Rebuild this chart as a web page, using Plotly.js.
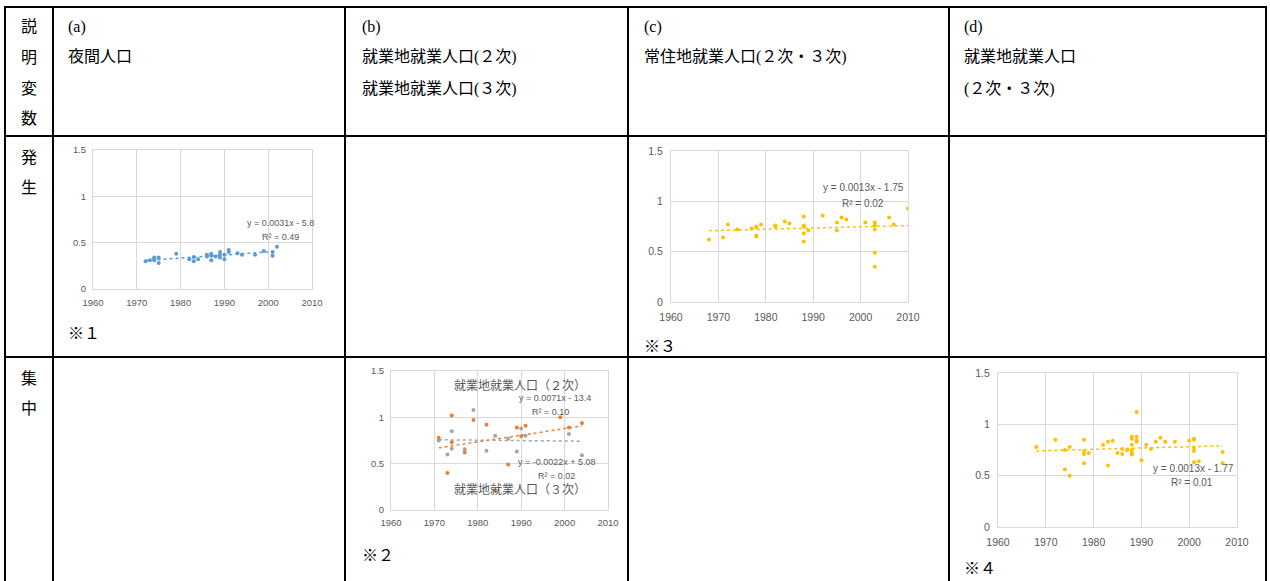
<!DOCTYPE html>
<html>
<head>
<meta charset="utf-8">
<script src="https://cdn.plot.ly/plotly-3.0.1.min.js"></script>
<style>
  html, body { margin: 0; padding: 0; background: #fff; }
  #chart { width: 1270px; height: 581px; }
</style>
</head>
<body>
<div id="chart"></div>
<script>
// (a) 発生 ― 夜間人口
const yearsA = [1972, 1973, 1974, 1974, 1974, 1975, 1975, 1979, 1982, 1983, 1983, 1984,
                1986, 1986, 1987, 1987, 1987, 1988, 1989, 1989, 1989, 1990, 1990, 1991,
                1991, 1993, 1994, 1997, 1999, 2001, 2001, 2002];
const valsA  = [0.30, 0.31, 0.33, 0.31, 0.34, 0.34, 0.28, 0.38, 0.32, 0.345, 0.30, 0.32,
                0.37, 0.35, 0.38, 0.31, 0.36, 0.35, 0.40, 0.37, 0.34, 0.37, 0.32, 0.42,
                0.40, 0.385, 0.37, 0.37, 0.41, 0.40, 0.36, 0.457];

// (b) 集中 ― 就業地就業人口（２次）/（３次）
const yearsB2 = [1971, 1973, 1974, 1974, 1977, 1979, 1982, 1984, 1987, 1989, 1990, 1991, 1999, 2001, 2004];
const valsB2  = [0.78, 0.40, 1.02, 0.73, 0.62, 0.97, 0.92, 0.21, 0.49, 0.89, 0.795, 0.91, 1.00, 0.89, 0.94];
const yearsB3 = [1971, 1973, 1974, 1974, 1977, 1979, 1982, 1984, 1987, 1989, 1990, 1991, 2001, 2004];
const valsB3  = [0.75, 0.60, 0.85, 0.66, 0.655, 1.08, 0.64, 0.80, 0.77, 0.63, 0.88, 0.80, 0.82, 0.59];

// (c) 発生 ― 常住地就業人口（２次・３次）
const yearsC = [1968, 1971, 1972, 1974, 1977, 1978, 1978, 1978, 1978, 1979, 1982, 1982,
                1984, 1985, 1988, 1988, 1988, 1988, 1988, 1989, 1992, 1995, 1995, 1996,
                1997, 2001, 2003, 2003, 2003, 2003, 2003, 2006, 2007, 2010];
const valsC  = [0.62, 0.64, 0.77, 0.72, 0.73, 0.75, 0.74, 0.66, 0.65, 0.77, 0.76, 0.75,
                0.80, 0.78, 0.85, 0.76, 0.75, 0.68, 0.60, 0.71, 0.86, 0.79, 0.71, 0.84,
                0.82, 0.79, 0.79, 0.76, 0.72, 0.49, 0.35, 0.84, 0.77, 0.93];

// (d) 集中 ― 就業地就業人口（２次・３次）
const yearsD = [1968, 1972, 1974, 1974, 1975, 1975, 1978, 1978, 1978, 1978, 1979, 1982,
                1983, 1983, 1984, 1985, 1986, 1986, 1987, 1988, 1988, 1988, 1988, 1988,
                1988, 1989, 1989, 1989, 1989, 1990, 1991, 1992, 1993, 1994, 1995, 1997,
                2000, 2001, 2001, 2001, 2001, 2001, 2002, 2007, 2007];
const valsD  = [0.78, 0.85, 0.75, 0.56, 0.78, 0.50, 0.85, 0.74, 0.71, 0.62, 0.72, 0.80,
                0.83, 0.60, 0.84, 0.72, 0.76, 0.71, 0.75, 0.88, 0.86, 0.80, 0.75, 0.72,
                0.705, 1.12, 0.88, 0.84, 0.83, 0.65, 0.80, 0.76, 0.83, 0.87, 0.83, 0.83,
                0.84, 0.86, 0.85, 0.77, 0.74, 0.63, 0.64, 0.73, 0.62];

// Tick values shared by all four panels
const yearTicks  = [1960, 1970, 1980, 1990, 2000, 2010];
const valueTicks = [0, 0.5, 1, 1.5];

// Equation / R² labels and table text
const eqA  = ['y = 0.0031x - 5.8', 'R² = 0.49'];
const eqB2 = ['y = 0.0071x - 13.4', 'R² = 0.10'];
const eqB3 = ['y = -0.0022x + 5.08', 'R² = 0.02'];
const eqC  = ['y = 0.0013x - 1.75', 'R² = 0.02'];
const eqD  = ['y = 0.0013x - 1.77', 'R² = 0.01'];
const headerCol0 = ['説', '明', '変', '数'];
const rowHatsu = ['発', '生'];
const rowShu = ['集', '中'];

const W = 1270, H = 581;
const px = v => v / W;
const py = v => 1 - v / H;

// Least-squares line over the span of the data
function trend(xs, ys) {
  const n = xs.length;
  const mx = xs.reduce((a, b) => a + b, 0) / n;
  const my = ys.reduce((a, b) => a + b, 0) / n;
  let sxy = 0, sxx = 0;
  for (let i = 0; i < n; i++) { sxy += (xs[i] - mx) * (ys[i] - my); sxx += (xs[i] - mx) ** 2; }
  const b = sxy / sxx, a = my - b * mx;
  const x0 = Math.min(...xs), x1 = Math.max(...xs);
  return { x: [x0, x1], y: [a + b * x0, a + b * x1] };
}

const BLUE = '#5B9BD5', GOLD = '#FFC000', ORANGE = '#ED7D31', GRAY = '#A5A5A5';

function scatter(xs, ys, color, ax) {
  return { x: xs, y: ys, type: 'scatter', mode: 'markers', xaxis: 'x' + ax, yaxis: 'y' + ax,
           marker: { color: color, size: 4, symbol: 'circle' }, hoverinfo: 'x+y', showlegend: false };
}
function trendTrace(xs, ys, color, ax) {
  const t = trend(xs, ys);
  return { x: t.x, y: t.y, type: 'scatter', mode: 'lines', xaxis: 'x' + ax, yaxis: 'y' + ax,
           line: { color: color, width: 1.5, dash: 'dot' }, hoverinfo: 'skip', showlegend: false };
}

const traces = [
  trendTrace(yearsA, valsA, BLUE, ''), scatter(yearsA, valsA, BLUE, ''),
  trendTrace(yearsB2, valsB2, ORANGE, '2'), trendTrace(yearsB3, valsB3, GRAY, '2'),
  scatter(yearsB3, valsB3, GRAY, '2'), scatter(yearsB2, valsB2, ORANGE, '2'),
  trendTrace(yearsC, valsC, GOLD, '3'), scatter(yearsC, valsC, GOLD, '3'),
  trendTrace(yearsD, valsD, GOLD, '4'), scatter(yearsD, valsD, GOLD, '4')
];

const TICKFONT = 'Liberation Sans, Arial, sans-serif';
function xAxis(l, r, anchor, fs, gap) {
  return { domain: [px(l), px(r)], anchor: anchor, range: [1960, 2010], tickvals: yearTicks,
           showgrid: true, gridcolor: '#d9d9d9', gridwidth: 1, zeroline: false,
           showline: true, mirror: true, linecolor: '#d9d9d9', linewidth: 1,
           ticks: 'outside', ticklen: gap, tickcolor: 'rgba(0,0,0,0)',
           tickfont: { family: TICKFONT, size: fs, color: '#595959' }, fixedrange: true };
}
function yAxis(t, b, anchor, fs, gap) {
  return { domain: [py(b), py(t)], anchor: anchor, range: [0, 1.5], tickvals: valueTicks,
           showgrid: true, gridcolor: '#d9d9d9', gridwidth: 1, zeroline: false,
           showline: true, mirror: true, linecolor: '#d9d9d9', linewidth: 1,
           ticks: 'outside', ticklen: gap, tickcolor: 'rgba(0,0,0,0)',
           tickfont: { family: TICKFONT, size: fs, color: '#595959' }, fixedrange: true };
}

// Table rules
const shapes = [];
function hline(y, x0, x1) { shapes.push({ type: 'line', xref: 'paper', yref: 'paper', x0: px(x0), x1: px(x1), y0: py(y), y1: py(y), line: { color: '#000', width: 2 } }); }
function vline(x, y0, y1) { shapes.push({ type: 'line', xref: 'paper', yref: 'paper', x0: px(x), x1: px(x), y0: py(y0), y1: py(y1), line: { color: '#000', width: 2 } }); }
hline(7, 4, 1267); hline(136, 4, 1267); hline(357, 4, 1267);
[5, 53, 345, 628, 949, 1266].forEach(x => vline(x, 6, 590));

// Text
const SERIF = 'Liberation Serif, Noto Sans CJK JP, serif';
const annotations = [];
function txt(x, y, s, opt) {
  opt = opt || {};
  annotations.push(Object.assign({ xref: 'paper', yref: 'paper', x: px(x), y: py(y), text: s,
    showarrow: false, xanchor: 'left', yanchor: 'middle',
    font: { family: SERIF, size: 16, color: '#000' } }, opt));
}
headerCol0.forEach((c, i) => txt(29, 27 + i * 30.5, c, { xanchor: 'center' }));
rowHatsu.forEach((c, i) => txt(29, 157 + i * 30.5, c, { xanchor: 'center' }));
rowShu.forEach((c, i) => txt(29, 378 + i * 30.5, c, { xanchor: 'center' }));

txt(66, 27, '(a)'); txt(66, 57, '夜間人口');
txt(360, 27, '(b)'); txt(360, 57, '就業地就業人口(２次)'); txt(360, 89, '就業地就業人口(３次)');
txt(642, 27, '(c)'); txt(642, 57, '常住地就業人口(２次・３次)');
txt(962, 27, '(d)'); txt(962, 57, '就業地就業人口'); txt(962, 89, '(２次・３次)');
txt(66, 333, '※１'); txt(360, 555, '※２'); txt(642, 346, '※３'); txt(962, 568, '※４');

const SMALL = { family: TICKFONT, size: 9, color: '#595959' };
function eq(x, y, s, size) {
  annotations.push({ xref: 'paper', yref: 'paper', x: px(x), y: py(y), text: s, showarrow: false,
    xanchor: 'center', yanchor: 'middle', font: Object.assign({}, SMALL, { size: size || 9 }) });
}
eq(280, 223, eqA[0]); eq(280, 237, eqA[1]);
eq(555, 398, eqB2[0]); eq(550, 412, eqB2[1]);
eq(557, 462, eqB3[0]); eq(556, 476, eqB3[1]);
eq(863, 188, eqC[0], 10); eq(863, 203, eqC[1], 10);
eq(1193, 468, eqD[0], 10); eq(1192, 482, eqD[1], 10);
annotations.push({ xref: 'paper', yref: 'paper', x: px(520), y: py(384), text: '就業地就業人口（２次）',
  showarrow: false, xanchor: 'center', yanchor: 'middle',
  font: { family: 'Noto Sans CJK JP, sans-serif', size: 12, color: '#595959' } });
annotations.push({ xref: 'paper', yref: 'paper', x: px(520), y: py(488), text: '就業地就業人口（３次）',
  showarrow: false, xanchor: 'center', yanchor: 'middle',
  font: { family: 'Noto Sans CJK JP, sans-serif', size: 12, color: '#595959' } });

const layout = {
  width: W, height: H, margin: { l: 0, r: 0, t: 0, b: 0 },
  paper_bgcolor: '#fff', plot_bgcolor: '#fff', showlegend: false,
  xaxis:  xAxis(93, 312, 'y', 9.5, 5),    yaxis:  yAxis(150, 289, 'x', 9.5, 4),
  xaxis2: xAxis(391, 608, 'y2', 9.5, 4),  yaxis2: yAxis(371, 510, 'x2', 9.5, 4),
  xaxis3: xAxis(671, 908, 'y3', 10.5, 5), yaxis3: yAxis(151, 302, 'x3', 10.5, 5),
  xaxis4: xAxis(998, 1237, 'y4', 10.5, 5), yaxis4: yAxis(373, 527, 'x4', 10.5, 5),
  shapes: shapes, annotations: annotations
};

Plotly.newPlot('chart', traces, layout, { displayModeBar: false, staticPlot: true });
</script>
</body>
</html>
